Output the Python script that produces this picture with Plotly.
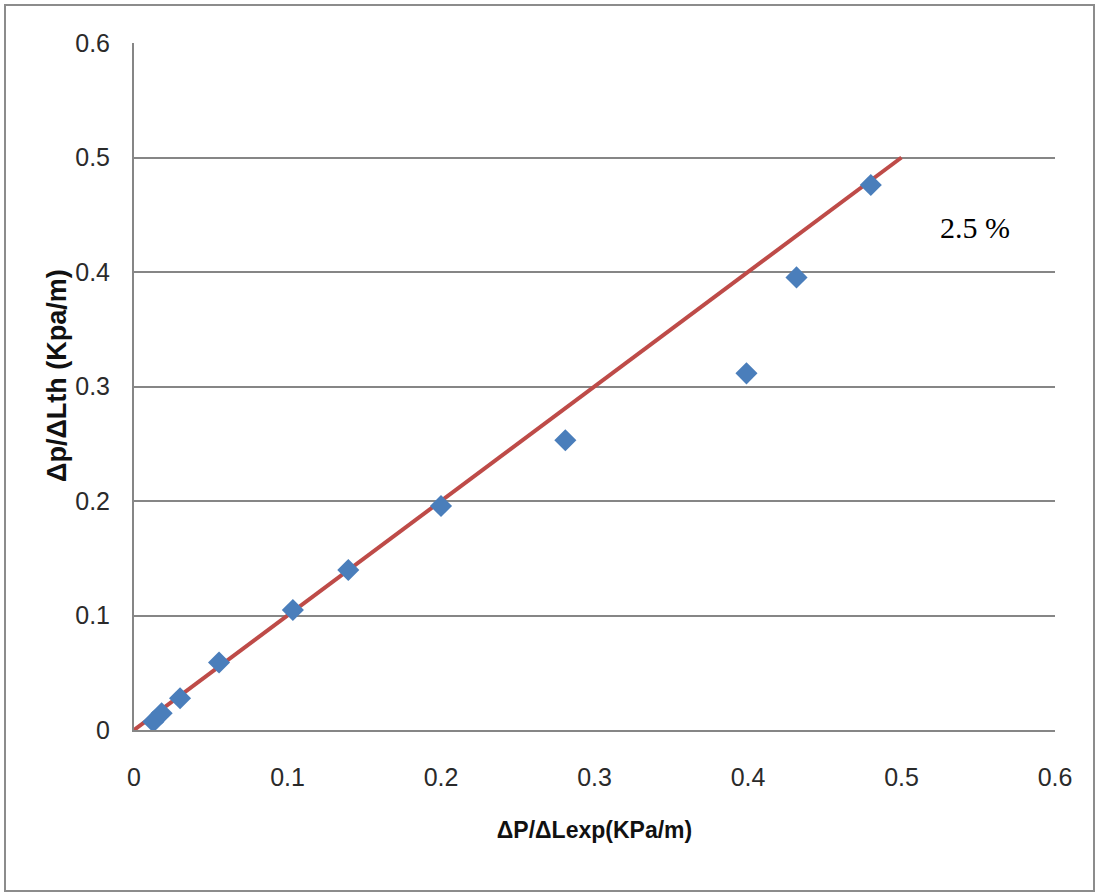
import plotly.graph_objects as go

# Measured vs. theoretical pressure gradient (kPa/m)
dp_exp = [0.0126, 0.018, 0.030, 0.0554, 0.1035, 0.1396, 0.200, 0.281, 0.399, 0.4316, 0.480]
dp_th = [0.0073, 0.0146, 0.0277, 0.059, 0.1048, 0.1397, 0.1956, 0.253, 0.3115, 0.3953, 0.476]

# 1:1 reference line
ref_x = [0.0, 0.5]
ref_y = [0.0, 0.5]

tick_vals = [0, 0.1, 0.2, 0.3, 0.4, 0.5, 0.6]
tick_text = ["0", "0.1", "0.2", "0.3", "0.4", "0.5", "0.6"]

W, H = 1096, 893
ML, MR, MT, MB = 134, 41, 43, 163
pw, ph = W - ML - MR, H - MT - MB

sans = "Liberation Sans Narrow, Arial Narrow, Liberation Sans, sans-serif"
tick_font = dict(family=sans, size=25, color="#2a2a2a")
title_font = dict(family=sans, size=23, color="#111111")


def px_to_paper_x(px):
    return (px - ML) / pw


def px_to_paper_y(py):
    return (H - MB - py) / ph


fig = go.Figure()

fig.add_trace(go.Scatter(
    x=ref_x, y=ref_y, mode="lines",
    line=dict(color="#BE4B48", width=4),
    showlegend=False, hoverinfo="skip",
))

fig.add_trace(go.Scatter(
    x=dp_exp, y=dp_th, mode="markers",
    marker=dict(symbol="diamond", size=17, color="#4A7EBB", line=dict(width=0)),
    showlegend=False,
))

fig.add_annotation(
    x=0.548, y=0.439, xref="x", yref="y", text="2.5 %", showarrow=False,
    font=dict(family="Liberation Serif, Times New Roman, serif", size=30, color="#000000"),
)

# y-axis title placed as a rotated annotation
fig.add_annotation(
    x=px_to_paper_x(57), y=px_to_paper_y(376), xref="paper", yref="paper",
    text="<b>Δp/ΔLth (Kpa/m)</b>", textangle=-90, showarrow=False,
    xanchor="center", yanchor="middle",
    font=dict(family=sans, size=27, color="#111111"),
)

# outer frame around the chart
fig.add_shape(
    type="rect", xref="paper", yref="paper",
    x0=px_to_paper_x(5), x1=px_to_paper_x(1094),
    y0=px_to_paper_y(891), y1=px_to_paper_y(5),
    line=dict(color="#8c8c8c", width=2), fillcolor="rgba(0,0,0,0)", layer="below",
)

fig.update_xaxes(
    range=[0, 0.6], tickvals=tick_vals, ticktext=tick_text,
    showgrid=False, zeroline=False,
    showline=True, linecolor="#868686", linewidth=2,
    ticks="", tickfont=tick_font, ticklabelstandoff=24,
    title=dict(text="<b>ΔP/ΔLexp(KPa/m)</b>", font=title_font, standoff=32),
)
fig.update_yaxes(
    range=[0, 0.6], tickvals=tick_vals, ticktext=tick_text,
    showgrid=True, gridcolor="#868686", gridwidth=2, zeroline=False,
    showline=True, linecolor="#868686", linewidth=2,
    ticks="", tickfont=tick_font, ticklabelstandoff=17,
)

fig.update_layout(
    width=W, height=H,
    margin=dict(l=ML, r=MR, t=MT, b=MB, autoexpand=False),
    paper_bgcolor="white", plot_bgcolor="white",
)

fig.write_html("out.html")
